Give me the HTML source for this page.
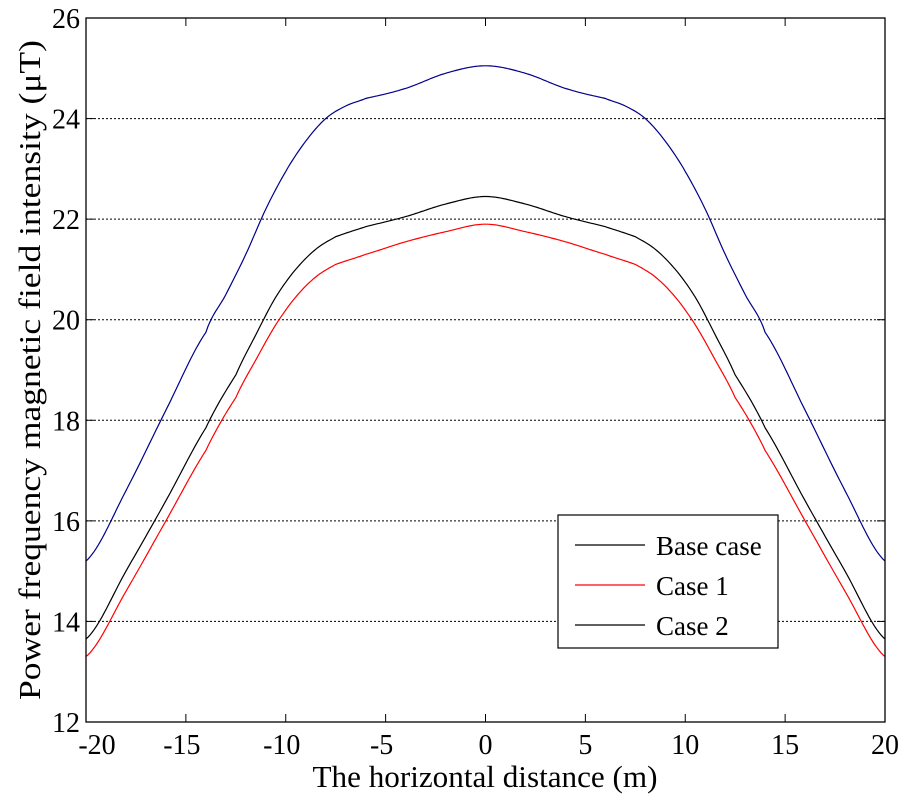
<!DOCTYPE html>
<html><head><meta charset="utf-8"><style>
html,body{margin:0;padding:0;background:#fff;}
svg{display:block;font-family:"Liberation Serif",serif;}
</style></head><body>
<svg id="s" width="900" height="800" viewBox="0 0 900 800" xmlns="http://www.w3.org/2000/svg">
<rect width="900" height="800" fill="#fff"/>
<g id="grid" stroke="#000" stroke-width="1" stroke-dasharray="2,2"></g>
<g id="curves" fill="none" stroke-width="1.2"></g>
<rect x="86" y="18" width="799" height="704" fill="none" stroke="#000" stroke-width="1.3"/>
<g id="ticks" stroke="#000" stroke-width="1"></g>
<g id="labels" font-size="28" fill="#000"></g>
<text x="485" y="787" font-size="31" text-anchor="middle" textLength="345" lengthAdjust="spacingAndGlyphs">The horizontal distance (m)</text>
<text transform="translate(40,370) rotate(-90)" font-size="31" text-anchor="middle" textLength="660" lengthAdjust="spacingAndGlyphs">Power frequency magnetic field intensity (μT)</text>
<rect x="558" y="515" width="220" height="133" fill="#fff" stroke="#000" stroke-width="1.2"/>
<line x1="575" y1="545" x2="645" y2="545" stroke="#000" stroke-width="1.2"/>
<line x1="575" y1="585" x2="645" y2="585" stroke="#f00" stroke-width="1.2"/>
<line x1="575" y1="625" x2="645" y2="625" stroke="#000" stroke-width="1.2"/>
<text x="656" y="555" font-size="27">Base case</text>
<text x="656" y="595" font-size="27">Case 1</text>
<text x="656" y="635" font-size="27">Case 2</text>
</svg>
<script>
var NS="http://www.w3.org/2000/svg";
function X(v){return 86+(v+20)*799/40;}
function Y(v){return 18+(26-v)*704/14;}
function el(p,t,a){var e=document.createElementNS(NS,t);for(var k in a)e.setAttribute(k,a[k]);document.getElementById(p).appendChild(e);return e;}
for(var v=14;v<=24;v+=2){el("grid","line",{x1:86,x2:885,y1:Y(v),y2:Y(v)});}
for(var v=12;v<=26;v+=2){el("ticks","line",{x1:86,x2:94,y1:Y(v),y2:Y(v)});el("ticks","line",{x1:877,x2:885,y1:Y(v),y2:Y(v)});
 var t=el("labels","text",{x:80,y:Y(v)+10,"text-anchor":"end"});t.textContent=v;}
for(var v=-20;v<=20;v+=5){el("ticks","line",{x1:X(v),x2:X(v),y1:722,y2:714});el("ticks","line",{x1:X(v),x2:X(v),y1:18,y2:26});
 var t=el("labels","text",{x:(v==-20?97:X(v)-(v<0?4:0)),y:754,"text-anchor":"middle"});t.textContent=v;}
var K={
b:[[0,22.45],[2,22.3],[4,22.05],[6,21.85],[7.5,21.65],[8.5,21.4],[9.5,21.0],[10.5,20.45],[11.5,19.7],[12.5,18.9],[14,17.85],[16,16.4],[18,15.0],[20,13.65]],
c1:[[0,21.9],[2,21.75],[4,21.55],[6,21.3],[7.5,21.1],[8.5,20.85],[9.5,20.45],[10.5,19.9],[11.5,19.2],[12.5,18.45],[14,17.4],[16,16.0],[18,14.6],[20,13.3]],
c2:[[0,25.05],[2,24.9],[4,24.6],[6,24.4],[7,24.25],[8,24.0],[9,23.55],[10,22.95],[11,22.2],[12,21.3],[13,20.5],[14,19.75],[16,18.2],[18,16.6],[20,15.2]]};
function f(k,x){x=Math.abs(x);for(var i=0;i<k.length-1;i++){if(x<=k[i+1][0]){var a=k[i],b=k[i+1],t=(x-a[0])/(b[0]-a[0]);
 var p0=k[Math.max(i-1,0)][1],p1=a[1],p2=b[1],p3=k[Math.min(i+2,k.length-1)][1];
 if(i==0)p0=b[1];
 return 0.5*((2*p1)+(-p0+p2)*t+(2*p0-5*p1+4*p2-p3)*t*t+(-p0+3*p1-3*p2+p3)*t*t*t);}}return k[k.length-1][1];}
function draw(k,c){var d="";for(var x=-20;x<=20.001;x+=0.1){d+=(d?"L":"M")+X(x).toFixed(1)+","+Y(f(k,x)).toFixed(1);}
 el("curves","path",{d:d,stroke:c});}
draw(K.c2,"#00008b");draw(K.b,"#000");draw(K.c1,"#f00");
</script>
</body></html>
